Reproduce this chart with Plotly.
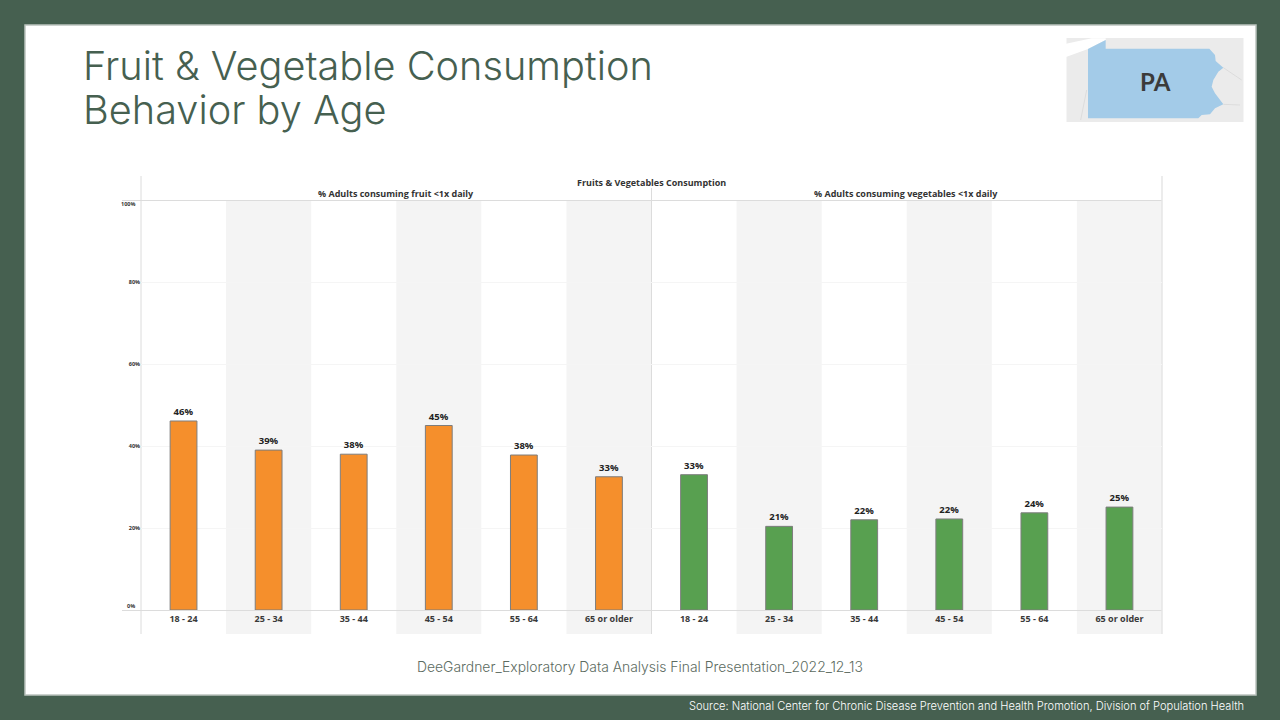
import plotly.graph_objects as go

ages = ["18 - 24", "25 - 34", "35 - 44", "45 - 54", "55 - 64", "65 or older"]
fruit_values = [46.1, 39.0, 38.0, 45.0, 37.8, 32.5]
fruit_labels = ["46%", "39%", "38%", "45%", "38%", "33%"]
veg_values = [33.0, 20.4, 22.0, 22.2, 23.7, 25.1]
veg_labels = ["33%", "21%", "22%", "22%", "24%", "25%"]
y_ticks = [20, 40, 60, 80]

W, H = 1280, 720
GREEN = "#466050"
LINE = "#dcdcdc"
BAND = "#f4f4f4"
TAB = "Open Sans"
TITLE_FONT = "Inter"


def px(v):
    return v / W


def py(v):
    return 1 - v / H


def rect(x0, y0, x1, y1, fill, line=None, width=0):
    return dict(type="rect", xref="paper", yref="paper", x0=px(x0), x1=px(x1),
                y0=py(y0), y1=py(y1), fillcolor=fill, layer="below",
                line=dict(color=line or fill, width=width))


def seg(x0, y0, x1, y1, color=LINE, width=1, layer="below"):
    return dict(type="line", xref="paper", yref="paper", x0=px(x0), x1=px(x1),
                y0=py(y0), y1=py(y1), layer=layer, line=dict(color=color, width=width))


def poly(points, fill):
    path = "M " + " L ".join(f"{px(x):.5f},{py(y):.5f}" for x, y in points) + " Z"
    return dict(type="path", xref="paper", yref="paper", path=path, fillcolor=fill,
                layer="below", line=dict(width=0))


def zm(points):
    return [(1050 + a / 3, 25 + b / 3) for a, b in points]


def note(text, x, y, size, color="#333333", anchor="center", family=TAB, weight=700):
    return dict(text=text, xref="paper", yref="paper", x=px(x), y=py(y), showarrow=False,
                xanchor=anchor, yanchor="middle",
                font=dict(family=family, size=size, color=color, weight=weight))


n = len(ages)
shapes = [rect(25, 25, 1256, 695, "#ffffff", "#bcc4bf", 1.5)]

# Alternating column bands
for i in range(1, 2 * n, 2):
    shapes.append(dict(type="rect", xref="x", yref="paper", x0=i - 0.5, x1=i + 0.5,
                       y0=py(634), y1=py(200), fillcolor=BAND, layer="below", line=dict(width=0)))

# Frame lines
shapes += [
    seg(122, 200.5, 1162, 200.5),
    seg(122, 610.5, 1162, 610.5),
    seg(141, 176, 141, 634),
    seg(1162, 176, 1162, 634, "#e6e6e6", 1.5),
    seg(651.5, 188, 651.5, 634),
]

# Pennsylvania inset
shapes.append(rect(1066.5, 38, 1243.5, 122, "#ebebeb"))
shapes.append(poly(zm([(48, 56), (125, 40), (167, 40), (167, 45), (114, 72), (50, 95), (48, 95)]), "#ffffff"))
shapes.append(seg(*zm([(520, 128), (575, 165)])[0], *zm([(520, 128), (575, 165)])[1], "#d6d6d6", 0.7))
shapes.append(seg(*zm([(520, 238), (570, 240)])[0], *zm([(520, 238), (570, 240)])[1], "#d6d6d6", 0.7))
shapes.append(seg(*zm([(110, 195), (92, 285)])[0], *zm([(110, 195), (92, 285)])[1], "#d6d6d6", 0.7))
shapes.append(poly(zm([(114, 72), (167, 45), (167, 71), (478, 71), (495, 90), (497, 108), (520, 128),
                       (505, 140), (490, 165), (485, 185), (495, 205), (520, 238), (495, 250),
                       (480, 268), (455, 270), (445, 280), (114, 280)]), "#a3cbe8"))

annotations = [
    note("Fruit &amp; Vegetable Consumption", 80.5, 66, 39.7, GREEN, "left", TITLE_FONT, 300),
    note("Behavior by Age", 80.5, 110, 39.7, GREEN, "left", TITLE_FONT, 300),
    note("PA", 1155, 81, 24, "#3b3b3b", "center", "Lato"),
    note("Fruits &amp; Vegetables Consumption", 651, 182.5, 9),
    note("% Adults consuming fruit &lt;1x daily", 396, 194, 9),
    note("% Adults consuming vegetables &lt;1x daily", 906, 194, 9),
    note("100%", 137, 204, 5.5, anchor="right"),
    note("0%", 137, 606, 5.5, anchor="right"),
    note("DeeGardner_Exploratory Data Analysis Final Presentation_2022_12_13", 640, 667, 13.9,
         "#5c6b61", "center", TITLE_FONT, 300),
    note("Source: National Center for Chronic Disease Prevention and Health Promotion, Division of Population Health",
         1246, 706, 11.1, "#ffffff", "right", TITLE_FONT, 300),
]

fig = go.Figure()
bar_style = dict(width=0.315, textposition="outside",
                 cliponaxis=False, textangle=0, showlegend=False,
                 textfont=dict(family=TAB, size=9.5, color="#222222", weight=700))
outline = dict(color="#7d7d7d", width=1)
fig.add_trace(go.Bar(x=list(range(n)), y=fruit_values, text=fruit_labels,
                     marker=dict(color="#f58f2c", line=outline), **bar_style))
fig.add_trace(go.Bar(x=list(range(n, 2 * n)), y=veg_values, text=veg_labels,
                     marker=dict(color="#58a050", line=outline), **bar_style))

fig.update_layout(
    width=W, height=H, autosize=False,
    margin=dict(l=0, r=0, t=0, b=0),
    paper_bgcolor=GREEN, plot_bgcolor="rgba(0,0,0,0)",
    shapes=shapes, annotations=annotations,
    xaxis=dict(domain=[px(141), px(1162)], range=[-0.5, 2 * n - 0.5], showgrid=False,
               zeroline=False, showline=False, ticks="", tickmode="array",
               tickvals=list(range(2 * n)), ticktext=ages + ages, ticklabelstandoff=2,
               tickfont=dict(family=TAB, size=9, color="#3a3a3a", weight=700)),
    yaxis=dict(domain=[py(610), py(200)], range=[0, 100], showgrid=True, gridcolor="#f5f5f5",
               gridwidth=1, zeroline=False, showline=False, ticks="", tickmode="array",
               tickvals=y_ticks, ticktext=[f"{v}%" for v in y_ticks],
               tickfont=dict(family=TAB, size=5.5, color="#333333", weight=700)),
)

fig.write_html("out.html", config={"displayModeBar": False},
               post_script="document.body.style.margin='0';")
